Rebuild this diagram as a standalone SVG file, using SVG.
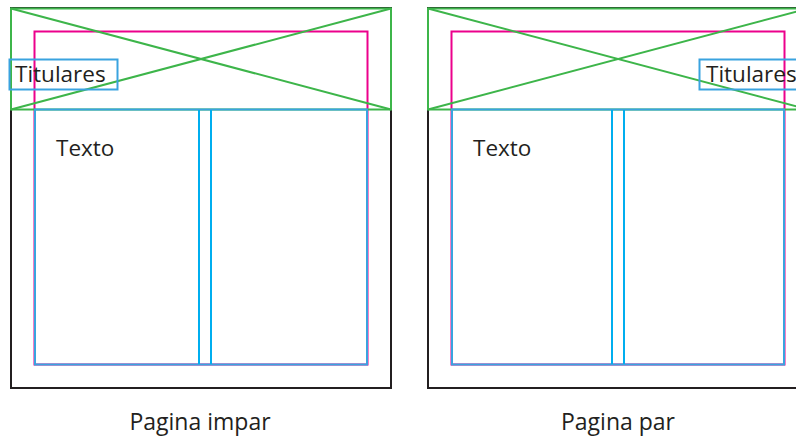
<svg xmlns="http://www.w3.org/2000/svg" width="796" height="440" viewBox="0 0 796 440">
<style>
.page{fill:none;stroke:#231f20;stroke-width:2}
.green{fill:none;stroke:#3db54a;stroke-width:2}
.pink{fill:none;stroke:#ec008c;stroke-width:2}
.blue{fill:none;stroke:#3aa3df;stroke-width:2}
.gut{stroke:#00aeef;stroke-width:2}
.t{font-family:"Open Sans","Noto Sans",sans-serif;font-size:22.5px;fill:#231f20}
.lbl{font-family:"Open Sans","Noto Sans",sans-serif;font-size:23px;fill:#231f20;text-anchor:middle}
</style>
<rect width="796" height="440" fill="#fff"/>
<g id="pagina-impar">
<rect class="page" x="11" y="8" width="380" height="380"/>
<rect class="pink" x="34.5" y="31.5" width="333" height="333"/>
<rect class="green" x="11" y="8.5" width="380" height="101"/>
<line class="green" x1="11" y1="8.5" x2="391" y2="109.5"/>
<line class="green" x1="11" y1="109.5" x2="391" y2="8.5"/>
<rect class="blue" x="35" y="109.5" width="332" height="255"/>
<line class="gut" x1="199" y1="110" x2="199" y2="364"/>
<line class="gut" x1="211" y1="110" x2="211" y2="364"/>
<rect class="blue" x="9.5" y="59.5" width="108" height="30"/>
<text class="t" x="15" y="82">Titulares</text>
<text class="t" x="56" y="156">Texto</text>
<text class="lbl" x="200" y="430">Pagina impar</text>
</g>
<g id="pagina-par">
<rect class="page" x="428" y="8" width="380" height="380"/>
<rect class="pink" x="451.5" y="31.5" width="333" height="333"/>
<rect class="green" x="428" y="8.5" width="380" height="101"/>
<line class="green" x1="428" y1="8.5" x2="808" y2="109.5"/>
<line class="green" x1="428" y1="109.5" x2="808" y2="8.5"/>
<rect class="blue" x="452" y="109.5" width="332" height="255"/>
<line class="gut" x1="612" y1="110" x2="612" y2="364"/>
<line class="gut" x1="624" y1="110" x2="624" y2="364"/>
<rect class="blue" x="699.5" y="59.5" width="108" height="30"/>
<text class="t" x="706" y="82">Titulares</text>
<text class="t" x="473" y="156">Texto</text>
<text class="lbl" x="618" y="430">Pagina par</text>
</g>
<g id="connectors"/>
</svg>
